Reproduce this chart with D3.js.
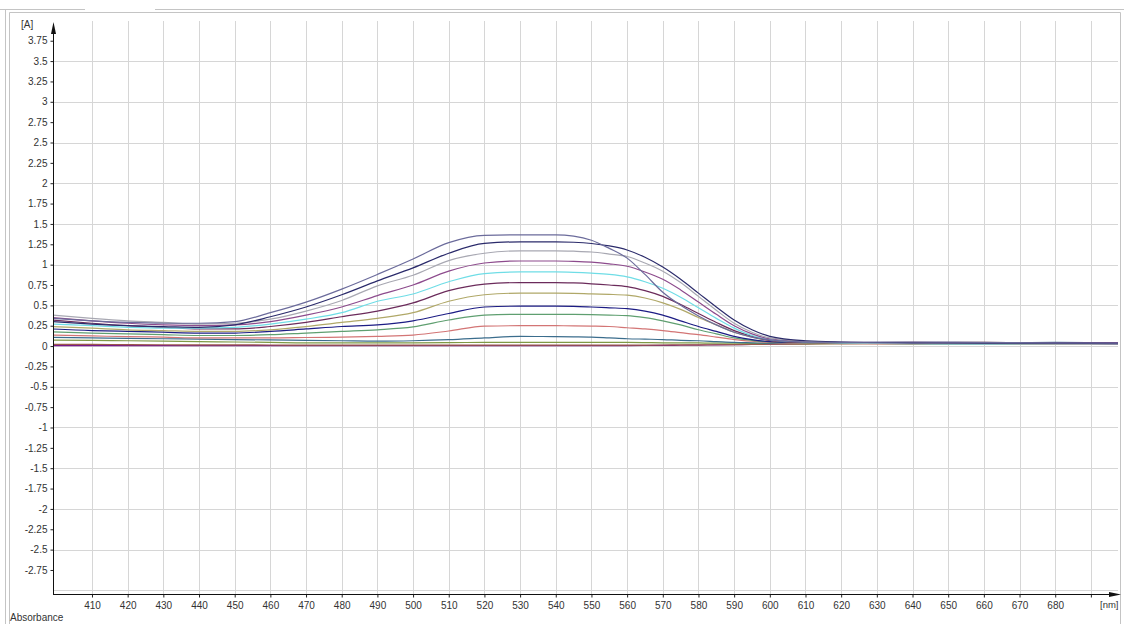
<!DOCTYPE html>
<html>
<head>
<meta charset="utf-8">
<script src="https://cdn.jsdelivr.net/npm/d3@7"></script>
<style>
  html, body { margin: 0; padding: 0; background: #fff; }
  svg { display: block; }
  text { font-family: "Liberation Sans", Arial, sans-serif; font-size: 10px; fill: #333; }
</style>
</head>
<body>
<svg id="chart" width="1124" height="624"></svg>
<script>
// Wavelength grid (nm) shared by every absorbance trace
const wavelengths = [399, 410, 420, 430, 440, 450, 460, 470, 480, 490, 500, 510, 520, 530, 540, 545, 550, 555, 560, 565, 570, 575, 580, 585, 590, 595, 600, 610, 620, 640, 660, 680, 698];

// Absorbance traces [A]
const trace1  = [0.34, 0.31, 0.29, 0.28, 0.28, 0.30, 0.41, 0.54, 0.70, 0.88, 1.07, 1.27, 1.36, 1.365, 1.365, 1.35, 1.30, 1.20, 1.08, 0.88, 0.66, 0.50, 0.37, 0.26, 0.17, 0.11, 0.075, 0.05, 0.045, 0.05, 0.045, 0.04, 0.035];
const trace2  = [0.30, 0.27, 0.25, 0.24, 0.23, 0.26, 0.36, 0.48, 0.63, 0.80, 0.96, 1.14, 1.26, 1.28, 1.28, 1.275, 1.26, 1.23, 1.18, 1.09, 0.97, 0.82, 0.65, 0.48, 0.32, 0.20, 0.12, 0.065, 0.05, 0.04, 0.035, 0.035, 0.03];
const trace3  = [0.38, 0.34, 0.31, 0.29, 0.27, 0.28, 0.33, 0.43, 0.56, 0.74, 0.87, 1.05, 1.14, 1.17, 1.17, 1.165, 1.155, 1.13, 1.10, 1.02, 0.92, 0.78, 0.61, 0.44, 0.28, 0.17, 0.10, 0.06, 0.045, 0.035, 0.03, 0.025, 0.02];
const trace4  = [0.35, 0.31, 0.28, 0.26, 0.25, 0.26, 0.30, 0.38, 0.48, 0.62, 0.75, 0.92, 1.02, 1.045, 1.045, 1.04, 1.03, 1.01, 0.98, 0.91, 0.82, 0.69, 0.54, 0.39, 0.25, 0.15, 0.09, 0.055, 0.045, 0.04, 0.04, 0.035, 0.035];
const trace5  = [0.27, 0.25, 0.23, 0.22, 0.22, 0.23, 0.27, 0.33, 0.41, 0.55, 0.64, 0.79, 0.89, 0.91, 0.91, 0.905, 0.895, 0.88, 0.85, 0.79, 0.71, 0.60, 0.47, 0.34, 0.22, 0.13, 0.08, 0.05, 0.04, 0.03, 0.025, 0.03, 0.03];
const trace6  = [0.32, 0.28, 0.25, 0.23, 0.21, 0.21, 0.24, 0.29, 0.36, 0.43, 0.53, 0.68, 0.76, 0.78, 0.78, 0.775, 0.765, 0.75, 0.73, 0.68, 0.61, 0.51, 0.40, 0.29, 0.19, 0.12, 0.07, 0.045, 0.04, 0.045, 0.04, 0.035, 0.035];
const trace7  = [0.24, 0.22, 0.20, 0.19, 0.18, 0.18, 0.20, 0.24, 0.29, 0.34, 0.41, 0.55, 0.63, 0.65, 0.65, 0.648, 0.64, 0.635, 0.625, 0.59, 0.53, 0.45, 0.35, 0.26, 0.17, 0.11, 0.07, 0.045, 0.035, 0.03, 0.03, 0.025, 0.025];
const trace8  = [0.21, 0.19, 0.18, 0.17, 0.16, 0.16, 0.18, 0.21, 0.24, 0.26, 0.31, 0.40, 0.48, 0.49, 0.49, 0.488, 0.48, 0.47, 0.46, 0.43, 0.38, 0.31, 0.24, 0.18, 0.12, 0.08, 0.055, 0.045, 0.04, 0.035, 0.035, 0.04, 0.035];
const trace9  = [0.175, 0.16, 0.15, 0.14, 0.13, 0.13, 0.14, 0.16, 0.18, 0.20, 0.235, 0.32, 0.38, 0.39, 0.39, 0.388, 0.385, 0.38, 0.375, 0.35, 0.31, 0.26, 0.20, 0.15, 0.10, 0.07, 0.05, 0.04, 0.035, 0.03, 0.03, 0.025, 0.025];
const trace10 = [0.135, 0.125, 0.115, 0.11, 0.10, 0.10, 0.10, 0.105, 0.11, 0.12, 0.135, 0.185, 0.245, 0.25, 0.25, 0.248, 0.245, 0.24, 0.225, 0.21, 0.19, 0.165, 0.14, 0.11, 0.08, 0.06, 0.045, 0.035, 0.03, 0.025, 0.02, 0.02, 0.02];
const trace11 = [0.107, 0.10, 0.095, 0.09, 0.085, 0.08, 0.075, 0.07, 0.065, 0.06, 0.065, 0.078, 0.10, 0.12, 0.115, 0.113, 0.11, 0.10, 0.09, 0.085, 0.08, 0.07, 0.065, 0.055, 0.045, 0.04, 0.035, 0.035, 0.04, 0.04, 0.035, 0.045, 0.04];
const trace12 = [0.074, 0.07, 0.065, 0.06, 0.055, 0.05, 0.045, 0.04, 0.04, 0.04, 0.04, 0.042, 0.045, 0.046, 0.046, 0.046, 0.045, 0.045, 0.045, 0.043, 0.04, 0.04, 0.038, 0.036, 0.035, 0.033, 0.032, 0.03, 0.03, 0.03, 0.028, 0.025, 0.025];
const trace13 = [0.02, 0.02, 0.018, 0.016, 0.015, 0.014, 0.013, 0.012, 0.012, 0.012, 0.012, 0.012, 0.012, 0.012, 0.012, 0.012, 0.012, 0.012, 0.012, 0.012, 0.013, 0.014, 0.015, 0.016, 0.018, 0.02, 0.022, 0.025, 0.03, 0.04, 0.045, 0.03, 0.025];
const trace14 = [0.005, 0.005, 0.006, 0.006, 0.006, 0.006, 0.006, 0.006, 0.006, 0.006, 0.006, 0.006, 0.006, 0.006, 0.006, 0.006, 0.006, 0.006, 0.006, 0.007, 0.008, 0.01, 0.012, 0.014, 0.016, 0.02, 0.024, 0.03, 0.035, 0.035, 0.04, 0.04, 0.035];

const traceColors = ["#6b6b9b", "#2b2b6b", "#a8a8b2", "#8d4b8d", "#6fdde6", "#6b2b5b", "#b0a868", "#1c1c84", "#5f9f70", "#d37575", "#3b6d8d", "#7f9a45", "#9a5a4a", "#7a1a8a"];

// Axis ticks
const xTicks = [410, 420, 430, 440, 450, 460, 470, 480, 490, 500, 510, 520, 530, 540, 550, 560, 570, 580, 590, 600, 610, 620, 630, 640, 650, 660, 670, 680, 690];
const xTickLabels = ["410", "420", "430", "440", "450", "460", "470", "480", "490", "500", "510", "520", "530", "540", "550", "560", "570", "580", "590", "600", "610", "620", "630", "640", "650", "660", "670", "680", ""];
const yTicks = [3.75, 3.5, 3.25, 3, 2.75, 2.5, 2.25, 2, 1.75, 1.5, 1.25, 1, 0.75, 0.5, 0.25, 0, -0.25, -0.5, -0.75, -1, -1.25, -1.5, -1.75, -2, -2.25, -2.5, -2.75];
const yGrid = [3.5, 3, 2.5, 2, 1.5, 1, 0.5, 0, -0.5, -1, -1.5, -2, -2.5, -3];

const traces = [trace1, trace2, trace3, trace4, trace5, trace6, trace7, trace8, trace9, trace10, trace11, trace12, trace13, trace14];

const svg = d3.select("#chart");

const x = d3.scaleLinear().domain([399.07, 697.6]).range([53, 1118]);
const y = d3.scaleLinear().domain([-3.045, 3.98]).range([594, 22]);

// Window frame
const frame = svg.append("g").attr("stroke", "#c4c4c4").attr("fill", "none");
frame.append("path").attr("d", "M0,9.5H85 M155,9.5H1124");
frame.append("path").attr("d", "M5.5,9.5V624 M9.5,12.5V624 M9.5,12.5H1120.5V624");

// Grid
const grid = svg.append("g").attr("stroke", "#d6d6d6").attr("stroke-width", 1);
grid.selectAll("line.v").data(xTicks).join("line")
  .attr("x1", d => Math.round(x(d)) + 0.5).attr("x2", d => Math.round(x(d)) + 0.5)
  .attr("y1", 21).attr("y2", 594);
grid.selectAll("line.h").data(yGrid).join("line")
  .attr("y1", d => Math.round(y(d)) + 0.5).attr("y2", d => Math.round(y(d)) + 0.5)
  .attr("x1", 53).attr("x2", 1118);

// Traces
svg.append("defs").append("clipPath").attr("id", "plotClip")
  .append("rect").attr("x", 53.5).attr("y", 15).attr("width", 1118 - 53.5).attr("height", 579);

const line = d3.line()
  .x((d, i) => x(wavelengths[i]))
  .y(d => y(d))
  .curve(d3.curveMonotoneX);

svg.append("g").attr("clip-path", "url(#plotClip)")
  .selectAll("path").data(traces.slice().reverse()).join("path")
  .attr("d", d => line(d))
  .attr("fill", "none")
  .attr("stroke", (d, i) => traceColors[traces.length - 1 - i])
  .attr("stroke-width", 1.2);

// Y axis
const yAxis = d3.axisLeft(y).tickValues(yTicks).tickFormat(d => String(d)).tickSize(3).tickPadding(3);
const gy = svg.append("g").attr("transform", "translate(53.5,0)").call(yAxis);
gy.select(".domain").remove();
gy.selectAll(".tick line").attr("stroke", "#222");
gy.selectAll(".tick text").style("font-size", "10px").attr("fill", "#333");
svg.append("line").attr("x1", 53.5).attr("x2", 53.5).attr("y1", 30).attr("y2", 594.5).attr("stroke", "#111");
svg.append("path").attr("d", "M53.5,22 L56,34 L51,34 Z").attr("fill", "#111");
svg.append("text").attr("x", 21).attr("y", 28).text("[A]");

// X axis
const xAxis = d3.axisBottom(x).tickValues(xTicks).tickFormat((d, i) => xTickLabels[i]).tickSize(3).tickPadding(4);
const gx = svg.append("g").attr("transform", "translate(0,594.5)").call(xAxis);
gx.select(".domain").remove();
gx.selectAll(".tick line").attr("stroke", "#222");
gx.selectAll(".tick text").style("font-size", "10px").attr("fill", "#333");
svg.append("line").attr("x1", 53).attr("x2", 1112).attr("y1", 594.5).attr("y2", 594.5).attr("stroke", "#111");
svg.append("path").attr("d", "M1121,594.5 L1109,592 L1109,597 Z").attr("fill", "#111");

svg.append("text").attr("x", 1100).attr("y", 608).style("font-size", "9.5px").text("[nm]");

svg.append("text").attr("x", 10).attr("y", 621).text("Absorbance");
</script>
</body>
</html>
